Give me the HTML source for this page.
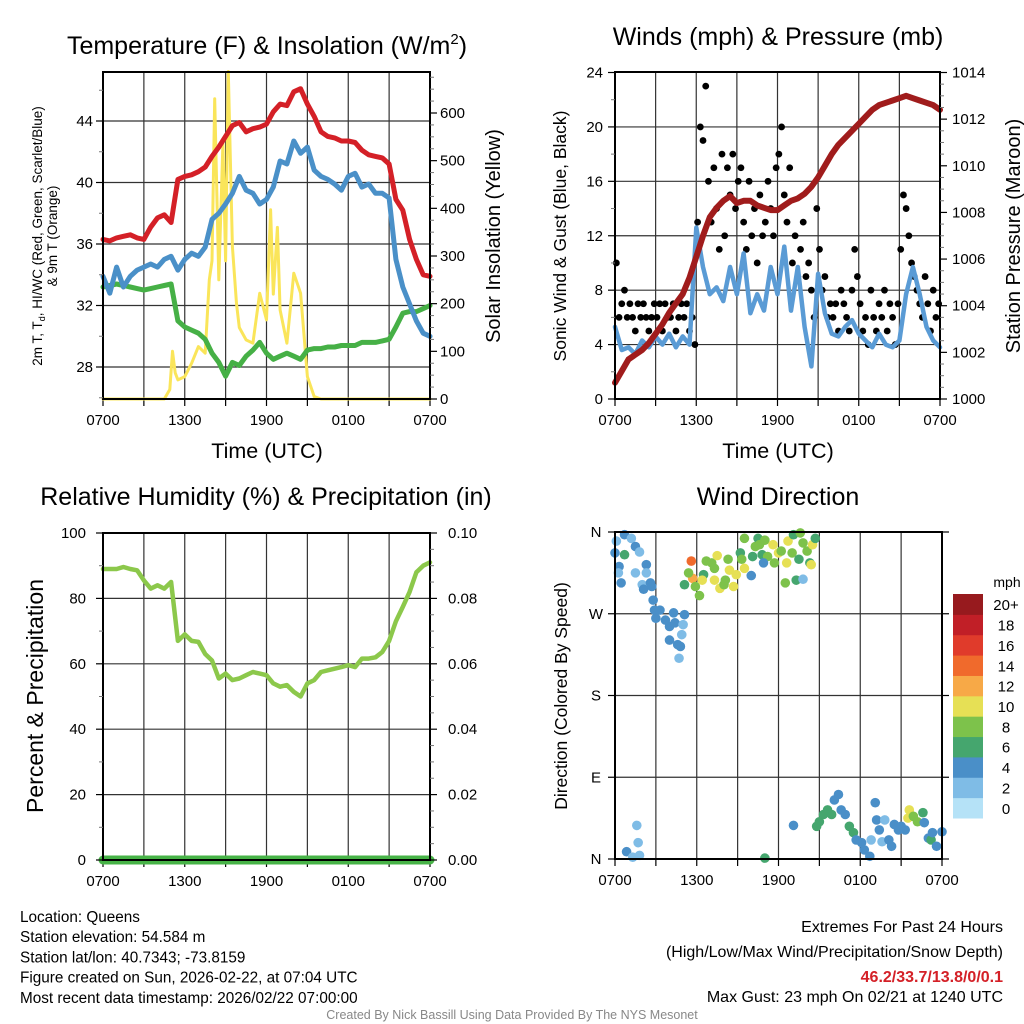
<!DOCTYPE html>
<html><head><meta charset="utf-8">
<style>
html,body{margin:0;padding:0;background:#fff;}
svg{display:block;font-family:"Liberation Sans",sans-serif;}
</style></head>
<body>
<svg id="chart" width="1024" height="1024" viewBox="0 0 1024 1024" xmlns="http://www.w3.org/2000/svg"></svg>
<script>
// ---------- DATA ----------
const hours = [0,0.5,1,1.5,2,2.5,3,3.5,4,4.5,5,5.5,6,6.5,7,7.5,8,8.5,9,9.5,10,10.5,11,11.5,12,12.5,13,13.5,14,14.5,15,15.5,16,16.5,17,17.5,18,18.5,19,19.5,20,20.5,21,21.5,22,22.5,23,23.5,24];
const xTickLabels = ["0700","1300","1900","0100","0700"];
const tempRed = [36.3,36.2,36.4,36.5,36.6,36.4,36.3,37.1,37.7,37.9,37.4,40.2,40.4,40.5,40.7,41.0,41.7,42.3,43.0,43.7,43.9,43.3,43.5,43.6,43.8,44.6,45.1,45.0,45.9,46.1,45.1,44.3,43.3,43.0,42.9,42.7,42.7,42.6,42.1,41.8,41.7,41.6,41.2,38.9,38.2,36.3,35.0,34.0,33.9];
const tempBlue = [33.9,32.8,34.5,33.2,33.9,34.3,34.5,34.7,34.5,35.0,35.2,34.3,35.0,35.4,35.2,35.8,37.6,38.0,38.6,39.3,40.4,39.5,39.3,38.6,38.9,39.7,41.4,41.2,42.7,41.9,42.3,40.8,40.4,40.2,39.9,39.5,40.4,40.6,39.7,39.9,39.3,39.3,39.0,35.0,33.2,32.1,31.0,30.2,30.0];
const tempGreen = [33.2,33.3,33.4,33.3,33.2,33.1,33.0,33.1,33.2,33.3,33.4,31.0,30.6,30.4,30.2,29.8,28.9,28.3,27.4,28.3,28.1,28.7,29.1,29.6,28.9,28.5,28.7,28.9,28.7,28.5,29.1,29.2,29.2,29.3,29.3,29.4,29.4,29.4,29.6,29.6,29.6,29.7,29.8,30.6,31.5,31.6,31.6,31.8,32.0];
const insTimes = [0,4.5,4.9,5.1,5.3,5.5,6,6.5,7,7.5,7.8,8,8.2,8.5,8.8,9,9.2,9.5,9.8,10,10.5,11,11.5,12,12.3,12.5,12.8,13,13.5,14,14.5,15,15.5,16,24];
const insVals  = [0,0,20,100,55,40,47,75,110,96,250,290,630,250,536,290,687,320,200,150,124,117,222,166,397,220,360,187,117,264,222,47,5,0,0];
const windBlue = [5.3,3.6,3.8,3.3,4.3,3.8,4.6,4.0,4.8,3.8,4.6,4.0,12.6,9.7,7.7,8.2,7.2,9.7,7.7,10.7,6.3,7.7,6.5,9.7,7.7,11.2,6.5,9.7,5.3,2.4,9.2,6.3,4.8,4.6,5.3,5.8,4.8,4.3,3.8,4.8,4.0,3.8,4.3,7.7,9.7,7.7,5.3,4.3,3.8];
const pressure = [1000.7,1001.2,1001.7,1001.9,1002.1,1002.4,1002.8,1003.2,1003.7,1004.1,1004.5,1005.2,1006.1,1007.0,1007.8,1008.2,1008.5,1008.7,1008.4,1008.5,1008.5,1008.3,1008.2,1008.1,1008.1,1008.3,1008.5,1008.6,1008.8,1009.1,1009.5,1010.0,1010.5,1010.9,1011.2,1011.5,1011.8,1012.1,1012.4,1012.6,1012.7,1012.8,1012.9,1013.0,1012.9,1012.8,1012.7,1012.6,1012.4];
const gusts = [10,6,7,8,6, 7,6,5,7,6, 7,6,5,6,7, 6,7,5,7,6, 6,7,5,6,7, 6,7,5,6,4, 13,20,19,23,16, 13,17,14,11,18, 12,17,15,18,14, 16,17,13,11,16, 12,14,10,15,12, 13,16,14,12,17, 18,20,15,13,17, 10,12,9,11,13, 9,10,8,6,14, 11,8,9,6,7, 6,7,5,8,7, 6,5,8,11,9, 7,5,6,4,8, 6,5,7,6,8, 5,7,6,4,7, 11,15,14,12,10, 9,8,7,6,9, 7,5,8,6,7];
const rh = [89,89,89,89.6,89,88.6,85.5,83,84,83,85,67,69,67,66.7,63,61,55.5,57,55,55.5,56.5,57.5,57,56.5,54,53,53.5,51.4,50,54,55,57.5,58,58.5,59,59.6,59,61.6,61.6,62,63.6,67,73,77.4,82,88,90,91];
const precip = [0,0,0,0,0,0,0,0,0,0,0,0,0,0,0,0,0,0,0,0,0,0,0,0,0,0,0,0,0,0,0,0,0,0,0,0,0,0,0,0,0,0,0,0,0,0,0,0,0];
const dirTimes = [0,0.1,0.7,1.2,1.5,1.8,0.7,0.3,0.25,0.45,1.5,2.3,2.3,2,2.1,2.6,2.7,2.8,2.9,3.3,3,3.7,4,4.3,4.4,4,4.6,4.9,5,5.1,4.7,4.8,
 1.6,1.7,0.85,1.3,1.8,
 5.6,5.7,5.4,5.1,5.9,6.2,6.5,6.4,6.7,7.1,7.3,7.3,7.5,7.7,8,8.1,8.3,8.4,8.7,8.9,9.2,9.3,9.5,9.5,10,10.1,10.3,10.5,10.6,10.8,11,11.2,11.6,11.7,12,12.2,12.5,12.6,12.7,13,13.1,13.3,13.5,13.6,13.8,13.8,14.1,14.3,14.4,14.5,14.7,10.9,
 11,13.1,
 14.8,15,15.3,15.6,15.9,16.1,16.4,16.6,16.9,17.2,17.5,17.7,18.1,18.3,18.7,18.8,19.1,19.2,19.4,19.6,19.8,20.1,20.3,20.5,20.8,21,21.3,21.5,21.6,21.9,22.2,22.6,22.7,23,23.2,23.3,23.6,24];
const dirDeg = [337,350,357,353,344,338,335,322,315,304,315,324,315,302,297,304,300,285,274,274,265,263,256,271,260,241,236,247,258,269,221,234,
 37,18,8,2,4,
 328,309,315,302,300,290,313,307,328,326,320,307,334,298,302,307,330,318,300,313,337,330,320,353,312,333,344,353,346,335,351,333,346,326,337,339,304,326,350,337,357,307,330,359,348,308,339,326,324,346,353,326,
 1,37,
 36,41,49,54,49,65,71,54,49,36,29,21,18,10,3,21,62,43,32,19,43,21,14,38,32,36,32,45,54,47,41,51,40,23,21,29,14,30];
const dirSpeed = [4,3,4,2,4,2,6,4,2,4,2,4,2,2,4,4,4,4,4,4,4,4,4,4,4,4,4,2,2,4,2,4,
 2,2,4,2,2,
 14,12,8,6,8,8,6,10,8,8,8,10,10,10,8,8,8,10,10,10,6,8,10,8,4,6,8,6,8,6,8,8,10,8,10,8,8,10,10,8,6,6,6,8,8,2,8,6,10,10,6,4,
 6,4,
 6,6,6,6,6,4,4,4,4,6,6,4,4,4,4,2,4,4,4,2,2,4,4,4,4,4,4,10,10,8,8,6,4,4,6,4,4,4];
const speedBins = ["0","2","4","6","8","10","12","14","16","18","20+"];
const speedColors = ["#b5e2f7","#7fbce6","#4a8fc8","#45a66e","#7dc24b","#e6e055","#f7a947","#f06a2c","#e03b2b","#c11f27","#971a1e"];

// ---------- HELPERS ----------
const svg = document.getElementById('chart');
const NS = 'http://www.w3.org/2000/svg';
function mk(tag, attrs, parent){ const e=document.createElementNS(NS,tag); for(const k in attrs) e.setAttribute(k,attrs[k]); (parent||svg).appendChild(e); return e; }
function txt(s, attrs, parent){ const e=mk('text',attrs,parent); e.textContent=s; return e; }
function lin(a0,a1,b0,b1){ return v => b0 + (v-a0)*(b1-b0)/(a1-a0); }
const TF = 15;

function panel(L,T,R,B,name){
  const g = mk('g',{});
  
  
  const xs = lin(0,24,L,R);
  for(let h=3;h<24;h+=3){ const l=mk('line',{x1:xs(h),x2:xs(h),y1:T,y2:B,stroke:'#333','stroke-width':1.2},g);   }
  for(let i=0;i<=8;i++){ mk('line',{x1:xs(i*3),x2:xs(i*3),y1:B,y2:B+7,stroke:'#000','stroke-width':1.2},g); }
  xTickLabels.forEach((s,i)=>{ const t=txt(s,{x:xs(i*6),y:B+26,'font-size':TF,'text-anchor':'middle'},g);   });
  return {g,xs};
}
function hgrid(g,L,R,y){ mk('line',{x1:L,x2:R,y1:y,y2:y,stroke:'#333','stroke-width':1.2},g); }
function frame(g,L,T,R,B){ const r=mk('rect',{x:L,y:T,width:R-L,height:B-T,fill:'none',stroke:'#000','stroke-width':2},g);   }
function leftTicks(g,L,vals,ys,minor){ vals.forEach(v=>{ mk('line',{x1:L-7,x2:L,y1:ys(v),y2:ys(v),stroke:'#000','stroke-width':1.2},g); }); (minor||[]).forEach(v=>{ mk('line',{x1:L-4,x2:L,y1:ys(v),y2:ys(v),stroke:'#777','stroke-width':1},g); }); }
function rightTicks(g,R,vals,ys,minor){ vals.forEach(v=>{ mk('line',{x1:R,x2:R+7,y1:ys(v),y2:ys(v),stroke:'#000','stroke-width':1.2},g); }); (minor||[]).forEach(v=>{ mk('line',{x1:R,x2:R+4,y1:ys(v),y2:ys(v),stroke:'#777','stroke-width':1},g); }); }
function path(g,xarr,yarr,xs,ys,color,w,name){ const d=xarr.map((x,i)=>(i?'L':'M')+xs(x).toFixed(1)+','+ys(yarr[i]).toFixed(1)).join(''); const p=mk('path',{d:d,fill:'none',stroke:color,'stroke-width':w,'stroke-linejoin':'round','stroke-linecap':'round'},g);   return p; }
function range(a,b,s){ const r=[]; for(let v=a; v<=b+1e-9; v+=s) r.push(+v.toFixed(4)); return r; }

// ---------- PANEL 1: Temperature ----------
(function(){
  const L=103,T=72,R=430,B=399;
  const {g,xs} = panel(L,T,R,B,'temperature-panel');
  const ys = lin(28,44,367,121);
  const yi = lin(0,600,399,113);
  [28,32,36,40,44].forEach(v=>hgrid(g,L,R,ys(v)));
  path(g,insTimes,insVals,xs,yi,'#fae55a',3,'insolation-line');
  path(g,hours,tempGreen,xs,ys,'#46b046',5,'dewpoint-line');
  path(g,hours,tempBlue,xs,ys,'#4a90c8',5,'windchill-line');
  path(g,hours,tempRed,xs,ys,'#d42027',5,'temperature-line');
  frame(g,L,T,R,B);
  leftTicks(g,L,[28,32,36,40,44],ys,range(26,47,2).filter(v=>v%4!==0));
  rightTicks(g,R,[0,100,200,300,400,500,600],yi,range(25,675,25).filter(v=>v%100!==0));
  [28,32,36,40,44].forEach(v=>{ const t=txt(String(v),{x:L-10,y:ys(v)+5,'font-size':TF,'text-anchor':'end'},g);   });
  [0,100,200,300,400,500,600].forEach(v=>{ const t=txt(String(v),{x:R+10,y:yi(v)+5,'font-size':TF},g);   });
  const tt=txt('',{x:267,y:54,'font-size':25,'text-anchor':'middle'},g); tt.innerHTML='Temperature (F) &amp; Insolation (W/m<tspan dy="-10" font-size="15">2</tspan><tspan dy="10">)</tspan>';
   
  const a=txt('',{transform:'translate(42,236) rotate(-90)','font-size':13.5,'text-anchor':'middle'},g); a.innerHTML='2m T, T<tspan dy="3" font-size="9">d</tspan><tspan dy="-3">, HI/WC (Red, Green, Scarlet/Blue)</tspan>';
   
  const a2=txt('& 9m T (Orange)',{transform:'translate(57,236) rotate(-90)','font-size':13.5,'text-anchor':'middle'},g);  
  const a3=txt('Solar Insolation (Yellow)',{transform:'translate(500,236) rotate(-90)','font-size':20,'text-anchor':'middle'},g);  
  const xt=txt('Time (UTC)',{x:267,y:458,'font-size':21.5,'text-anchor':'middle'},g);  
})();

// ---------- PANEL 2: Winds ----------
(function(){
  const L=615,T=72,R=940,B=399;
  const {g,xs} = panel(L,T,R,B,'winds-panel');
  const ys = lin(0,24,399,72.5);
  const yp = lin(1000,1014,399,72.5);
  [4,8,12,16,20].forEach(v=>hgrid(g,L,R,ys(v)));
  gusts.forEach((v,i)=>{ const c=mk('circle',{cx:xs(i*0.2+0.1),cy:ys(v),r:3.4,fill:'#000'},g);   });
  path(g,hours,windBlue,xs,ys,'#5a9bd5',4.5,'wind-speed-line');
  path(g,hours,pressure,xs,yp,'#a01c1c',6,'pressure-line');
  frame(g,L,T,R,B);
  leftTicks(g,L,[0,4,8,12,16,20,24],ys,range(2,22,4));
  rightTicks(g,R,range(1000,1014,2),yp,range(1000.5,1013.5,0.5).filter(v=>v%2!==0));
  [0,4,8,12,16,20,24].forEach(v=>{ const t=txt(String(v),{x:L-12,y:ys(v)+5,'font-size':TF,'text-anchor':'end'},g);   });
  range(1000,1014,2).forEach(v=>{ const t=txt(String(v),{x:R+12,y:yp(v)+5,'font-size':TF},g);   });
  const tt=txt('Winds (mph) & Pressure (mb)',{x:778,y:45,'font-size':25,'text-anchor':'middle'},g);  
  const a=txt('Sonic Wind & Gust (Blue, Black)',{transform:'translate(566,236) rotate(-90)','font-size':17.5,'text-anchor':'middle'},g);  
  const a2=txt('Station Pressure (Maroon)',{transform:'translate(1020,236) rotate(-90)','font-size':20,'text-anchor':'middle'},g);  
  const xt=txt('Time (UTC)',{x:778,y:458,'font-size':21.5,'text-anchor':'middle'},g);  
})();

// ---------- PANEL 3: RH ----------
(function(){
  const L=103,T=533,R=430,B=860;
  const {g,xs} = panel(L,T,R,B,'humidity-panel');
  const ys = lin(0,100,860,533);
  const yq = lin(0,0.1,860,533);
  [20,40,60,80].forEach(v=>hgrid(g,L,R,ys(v)));
  path(g,hours,rh,xs,ys,'#8cc84b',4.5,'humidity-line');
  path(g,hours,precip,xs,yq,'#47b347',9,'precipitation-line');
  frame(g,L,T,R,B);
  leftTicks(g,L,[0,20,40,60,80,100],ys,range(10,90,20));
  rightTicks(g,R,[0,0.02,0.04,0.06,0.08,0.1],yq,range(0.005,0.095,0.005).filter(v=>Math.round(v*1000)%20!==0));
  [0,20,40,60,80,100].forEach(v=>{ const t=txt(String(v),{x:L-17,y:ys(v)+5,'font-size':TF,'text-anchor':'end'},g);   });
  ['0.00','0.02','0.04','0.06','0.08','0.10'].forEach((s,i)=>{ const t=txt(s,{x:R+18,y:yq(i*0.02)+5,'font-size':TF},g);   });
  const tt=txt('Relative Humidity (%) & Precipitation (in)',{x:266,y:505,'font-size':25,'text-anchor':'middle'},g);  
  const a=txt('Percent & Precipitation',{transform:'translate(43,696) rotate(-90)','font-size':23,'text-anchor':'middle'},g);  
})();

// ---------- PANEL 4: Wind Direction ----------
(function(){
  const L=615,T=532,R=942,B=859;
  const {g,xs} = panel(L,T,R,B,'wind-direction-panel');
  const ys = lin(0,360,859,532);
  [90,180,270].forEach(v=>hgrid(g,L,R,ys(v)));
  dirTimes.forEach((t,i)=>{ let bi=Math.min(10,Math.floor(dirSpeed[i]/2)); const c=mk('circle',{cx:xs(t),cy:ys(dirDeg[i]),r:4.8,fill:speedColors[bi]},g);   });
  frame(g,L,T,R,B);
  leftTicks(g,L,[0,90,180,270,360],ys);
  rightTicks(g,R,[0,90,180,270,360],ys);
  [['N',0],['E',90],['S',180],['W',270],['N',360]].forEach(([s,v])=>{ const t=txt(s,{x:L-19,y:ys(v)+5,'font-size':TF,'text-anchor':'middle'},g);   });
  const tt=txt('Wind Direction',{x:778,y:505,'font-size':25,'text-anchor':'middle'},g);  
  const a=txt('Direction (Colored By Speed)',{transform:'translate(567,696) rotate(-90)','font-size':17.5,'text-anchor':'middle'},g);  
  const cb = mk('g',{},svg);
  
  
  const cbT=594, cbB=818, h=(cbB-cbT)/speedBins.length;
  speedBins.forEach((s,i)=>{
    const y=cbB-(i+1)*h;
    const r=mk('rect',{x:953,y:y,width:30,height:h+0.5,fill:speedColors[i]},cb);
    
    
    const t=txt(s,{x:1006,y:y+h/2+6,'font-size':15,'text-anchor':'middle'},cb);
    
    
  });
  const u=txt('mph',{x:1007,y:587,'font-size':14,'text-anchor':'middle'},cb);  
})();

// ---------- FOOTER TEXT ----------
const info = ['Location: Queens','Station elevation: 54.584 m','Station lat/lon: 40.7343; -73.8159','Figure created on Sun, 2026-02-22, at 07:04 UTC','Most recent data timestamp: 2026/02/22 07:00:00'];
info.forEach((s,i)=>{ const t=txt(s,{x:20,y:922+i*20.2,'font-size':15.3});   });
let e1=txt('Extremes For Past 24 Hours',{x:1003,y:932,'font-size':16,'text-anchor':'end'});  
let e2=txt('(High/Low/Max Wind/Precipitation/Snow Depth)',{x:1003,y:957,'font-size':16,'text-anchor':'end'});  
let e3=txt('46.2/33.7/13.8/0/0.1',{x:1003,y:982,'font-size':16,'font-weight':'bold',fill:'#d42027','text-anchor':'end'});  
let e4=txt('Max Gust: 23 mph On 02/21 at 1240 UTC',{x:1003,y:1002,'font-size':16,'text-anchor':'end'});  
let cr=txt('Created By Nick Bassill Using Data Provided By The NYS Mesonet',{x:512,y:1019,'font-size':12.5,fill:'#888','text-anchor':'middle'});  
</script>
</body></html>
